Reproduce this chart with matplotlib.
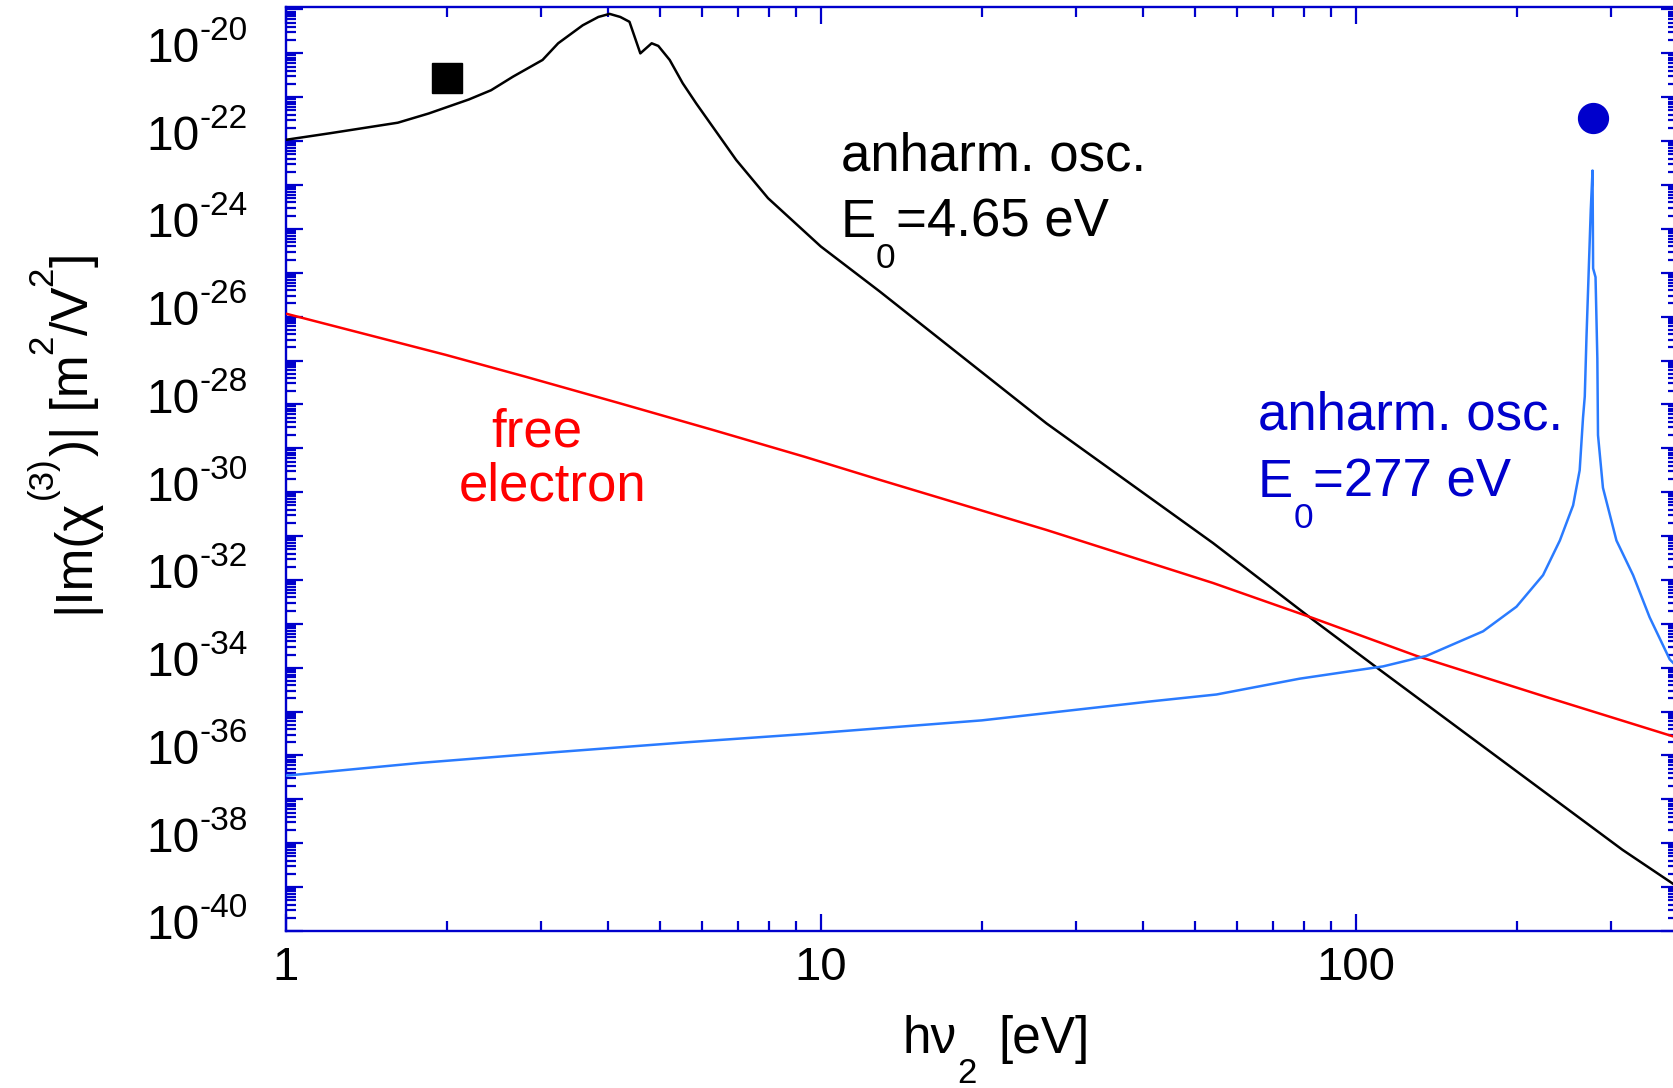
import numpy as np
import matplotlib
matplotlib.use('Agg')
import matplotlib.pyplot as plt
from matplotlib.ticker import LogLocator, FuncFormatter, NullFormatter
from matplotlib.transforms import offset_copy

plt.rcParams['font.family'] = ['Liberation Sans', 'DejaVu Sans']

# ---------------- data ----------------
# anharmonic oscillator, E0 = 4.65 eV (black)
black_x = [1, 1.21, 1.62, 1.85, 2.20, 2.42, 2.66, 3.02, 3.23, 3.59, 3.84, 4.03,
           4.22, 4.39, 4.60, 4.83, 4.97, 5.22, 5.52, 5.85, 6.95, 7.97, 10,
           12.9, 26.4, 54.1, 83.2, 110.9, 315, 400]
black_logy = [-21.97, -21.82, -21.58, -21.37, -21.05, -20.84, -20.53, -20.15,
              -19.77, -19.36, -19.17, -19.10, -19.17, -19.28, -20.00, -19.77,
              -19.83, -20.15, -20.68, -21.14, -22.43, -23.30, -24.40, -25.43,
              -28.43, -31.16, -32.91, -34.05, -38.15, -39.00]

# free electron (red)
red_x = [1, 1.99, 2.81, 4.2, 6.28, 9.31, 12.9, 26.4, 54.1, 83.2, 129.8, 230, 400]
red_logy = [-25.93, -26.87, -27.37, -27.97, -28.58, -29.19, -29.72, -30.86,
            -32.07, -32.87, -33.73, -34.69, -35.60]

# anharmonic oscillator, E0 = 277 eV (light blue)
blue_x = [1, 1.78, 3.15, 5.6, 9.38, 20, 41.2, 54.9, 78.5, 112.4, 135.5, 172.9,
          199.6, 223.8, 240.6, 254.7, 262, 265.8, 267.8, 269.8, 274.8, 276.9,
          277.6, 280.5, 282.7, 283.5, 289.6, 306.9, 329.7, 354, 386, 400]
blue_logy = [-36.46, -36.17, -35.93, -35.70, -35.51, -35.20, -34.77, -34.61,
             -34.25, -33.97, -33.73, -33.17, -32.61, -31.89, -31.10, -30.30,
             -29.50, -28.30, -27.82, -26.46, -23.57, -22.67, -24.90, -25.10,
             -26.95, -28.70, -29.90, -31.10, -31.89, -32.85, -33.81, -34.00]

# single markers
square_x = [2.0]
square_logy = [-20.56]
circle_x = [277.0]
circle_logy = [-21.47]

x_major = [1, 10, 100]
y_label_exponents = [-20, -22, -24, -26, -28, -30, -32, -34, -36, -38, -40]

# ---------------- figure ----------------
W, H = 1673, 1088
fig = plt.figure(figsize=(W / 100, H / 100), dpi=100)
ax = fig.add_axes([285.7 / W, (H - 931) / H, 1392.3 / W, 923.7 / H])
ax.set_xscale('log')
ax.set_yscale('log')
ax.set_xlim(1, 400)
ax.set_ylim(1e-40, 10 ** -18.95)

ax.plot(black_x, 10 ** np.array(black_logy), color='black', lw=1.8, zorder=3)
ax.plot(red_x, 10 ** np.array(red_logy), color='#FF0000', lw=1.8, zorder=3)
ax.plot(blue_x, 10 ** np.array(blue_logy), color='#2A7BFF', lw=1.8, zorder=3)
ax.plot(square_x, 10 ** np.array(square_logy), marker='s', ms=21.5,
        color='black', ls='none', zorder=4)
ax.plot(circle_x, 10 ** np.array(circle_logy), marker='o', ms=21.5,
        color='#0000CC', ls='none', zorder=4)

# spines & ticks
axcol = '#0000CC'
for sp in ax.spines.values():
    sp.set_color(axcol)
    sp.set_linewidth(1.7)

ax.xaxis.set_major_locator(LogLocator(base=10, numticks=20))
ax.xaxis.set_minor_locator(LogLocator(base=10, subs=np.arange(2, 10), numticks=20))
ax.xaxis.set_major_formatter(FuncFormatter(lambda v, p: '%g' % v if v in x_major else ''))
ax.xaxis.set_minor_formatter(NullFormatter())

ax.yaxis.set_major_locator(LogLocator(base=10, numticks=100))
ax.yaxis.set_minor_locator(LogLocator(base=10, subs=np.arange(2, 10), numticks=100))
ax.yaxis.set_major_formatter(NullFormatter())
ax.yaxis.set_minor_formatter(NullFormatter())

ax.tick_params(which='both', direction='in', top=True, right=True,
               color=axcol, width=1.6, labelcolor='black')
ax.tick_params(which='major', length=12.2)
ax.tick_params(which='minor', length=7.0)
ax.tick_params(axis='x', which='major', labelsize=34, pad=11)

# ---------------- composed texts ----------------
renderer = fig.canvas.get_renderer()


def measure(s, size):
    t = fig.text(0, 0, s, fontsize=size)
    w = t.get_window_extent(renderer=renderer).width
    t.remove()
    return w


def compose(x, y, pieces, transform, color, rotation=0, ha='left', dx=0.0, dy=0.0):
    adv = 0.0
    if ha == 'right':
        adv = -sum(measure(s, size) + gap for s, size, shift, gap in pieces)
    for s, size, shift, gap in pieces:
        if rotation == 0:
            tr = offset_copy(transform, fig=fig, x=adv + dx, y=shift + dy, units='dots')
        else:
            tr = offset_copy(transform, fig=fig, x=-shift + dx, y=adv + dy, units='dots')
        t = fig.text(x, y, s, transform=tr, fontsize=size, color=color,
                     rotation=rotation, rotation_mode='anchor',
                     ha='left', va='baseline')
        bb = t.get_window_extent(renderer=renderer)
        adv += (bb.width if rotation == 0 else bb.height) + gap


def figpx(xp, yp_top):
    return xp / W, (H - yp_top) / H


# y tick labels 10^-n (hyphen minus like the reference)
for e in y_label_exponents:
    compose(0, 10.0 ** e, [('10', 34.5, 0, 0), ('%d' % e, 24, 22, 0)],
            ax.get_yaxis_transform(), 'black', ha='right', dx=-37.7, dy=-8.4)

# black annotation
compose(10.9, 10 ** -22.66, [('anharm. osc.', 38, 0, 0)], ax.transData, 'black')
compose(10.9, 10 ** -24.18, [('E', 38, 0, 0), ('0', 25.5, -31, 0),
                             ('=4.65 eV', 38, 0, 0)], ax.transData, 'black')
# red annotation
compose(2.42, 10 ** -28.96, [('free', 38, 0, 0)], ax.transData, '#FF0000')
compose(2.11, 10 ** -30.18, [('electron', 38, 0, 0)], ax.transData, '#FF0000')
# blue annotation
compose(65.6, 10 ** -28.58, [('anharm. osc.', 38, 0, 0)], ax.transData, '#0000CC')
compose(65.6, 10 ** -30.10, [('E', 38, 0, 0), ('0', 25.5, -31, 0),
                             ('=277 eV', 38, 0, 0)], ax.transData, '#0000CC')

# x label
xl, yl = figpx(903, 1053)
compose(xl, yl, [('h\u03bd', 37, 0, 0), ('2', 25, -30, 22), ('[eV]', 37, 0, 0)],
        fig.transFigure, 'black')

# y label (rotated)
xl, yl = figpx(88, 613)
compose(xl, yl, [('|Im(\u03c7', 37, 0, 0), ('(3)', 25, 36, 0),
                 (')| [m', 37, 0, 0), ('2', 25, 36, 0), ('/V', 37, 0, 0),
                 ('2', 25, 36, 0), (']', 37, 0, 0)],
        fig.transFigure, 'black', rotation=90)

fig.savefig('out.png', dpi=100, facecolor='white')
